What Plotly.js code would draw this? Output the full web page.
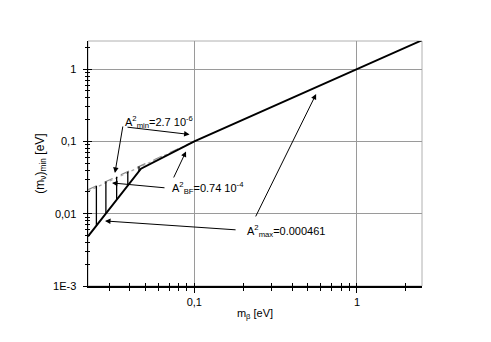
<!DOCTYPE html>
<html>
<head>
<meta charset="utf-8">
<script src="https://cdn.plot.ly/plotly-3.0.1.min.js"></script>
<style>
  html, body { margin: 0; padding: 0; background: #fff; }
  #chart { width: 491px; height: 342px; }
</style>
</head>
<body>
<div id="chart"></div>
<script>
// ── Data ────────────────────────────────────────────────────
// thick curve: (m_nu)_min vs m_beta
const mainX = [0.0222, 0.047, 0.1, 2.5];
const mainY = [0.00485, 0.042, 0.1, 2.5];

// upper dotted bound (A^2 min)
const boundX = [0.0222, 0.1];
const boundY = [0.0215, 0.1];
const boundY2 = [0.0205, 0.1];

// vertical hatch between the two curves
const hatchX    = [0.025, 0.0286, 0.0333, 0.039, 0.0457];
const hatchLow  = [0.007, 0.0101, 0.0156, 0.0244, 0.0385];
const hatchHigh = [0.0244, 0.0279, 0.0325, 0.0381, 0.0449];

// ticks
const xTickVals = [0.1, 1];
const xTickText = ["0,1", "1"];
const yTickVals = [0.001, 0.01, 0.1, 1];
const yTickText = ["1E-3", "0,01", "0,1", "1"];

const FONT = "Liberation Sans, Arial, sans-serif";
const X_RANGE = [Math.log10(0.0222), 0.4];
const Y_RANGE = [-3, 0.39];

// ── Traces ─────────────────────────────────────────────────
const hx = [], hy = [];
hatchX.forEach((x, i) => {
  hx.push(x, x, null);
  hy.push(hatchLow[i], hatchHigh[i], null);
});

const traces = [
  {
    x: boundX, y: boundY, type: "scatter", mode: "lines",
    line: { color: "#8a8a8a", width: 1.2, dash: "dash" },
    hoverinfo: "skip", showlegend: false,
  },
  {
    x: boundX, y: boundY2, type: "scatter", mode: "lines",
    line: { color: "#a8a8a8", width: 1.2, dash: "dot" },
    hoverinfo: "skip", showlegend: false,
  },
  {
    x: hx, y: hy, type: "scatter", mode: "lines",
    line: { color: "#000", width: 1.3 },
    hoverinfo: "skip", showlegend: false,
  },
  {
    x: mainX, y: mainY, type: "scatter", mode: "lines",
    line: { color: "#000", width: 2 },
    hoverinfo: "skip", showlegend: false,
  },
  // empty trace so the inner-tick overlay axes get drawn
  {
    x: [], y: [], type: "scatter", mode: "lines",
    xaxis: "x2", yaxis: "y2", hoverinfo: "skip", showlegend: false,
  },
];

// ── Arrows (tail -> head, log coords) ──────────────────────
function arrow(tx, ty, hxp, hyp) {
  return {
    x: hxp, y: hyp, ax: tx, ay: ty,
    xref: "x", yref: "y", axref: "x", ayref: "y",
    text: "", showarrow: true,
    arrowhead: 2, arrowsize: 1.1, arrowwidth: 1, arrowcolor: "#000",
  };
}
function label(x, y, text) {
  return {
    x: x, y: y, xref: "x", yref: "y", text: text, showarrow: false,
    xanchor: "left", yanchor: "middle",
    font: { family: FONT, size: 11, color: "#000" },
  };
}
const sub = s => `<sub><span style="color:#000">${s}</span></sub>`;
const sup = s => `<sup><span style="color:#000">${s}</span></sup>`;

const annotations = [
  arrow(-1.438, -0.772, -1.488, -1.436),
  arrow(-1.420, -0.800, -1.029, -0.903),
  arrow(-1.174, -1.643, -1.506, -1.574),
  arrow(-1.131, -1.519, -1.051, -1.138),
  arrow(-0.737, -2.224, -1.549, -2.100),
  arrow(-0.627, -2.058, -0.251, -0.343),
  label(-1.439, -0.725, "A" + sup("2") + sub("min") + "=2.7 10" + sup("-6")),
  label(-1.150, -1.645, "A" + sup("2") + sub("BF") + "=0.74 10" + sup("-4")),
  label(-0.690, -2.235, "A" + sup("2") + sub("max") + "=0.000461"),
];

// ── Layout ─────────────────────────────────────────────────
const layout = {
  width: 491, height: 342,
  margin: { l: 88, r: 69, t: 41, b: 56 },
  paper_bgcolor: "#fff", plot_bgcolor: "#fff",
  font: { family: FONT, size: 11, color: "#000" },
  xaxis: {
    type: "log", range: X_RANGE,
    tickmode: "array", tickvals: xTickVals, ticktext: xTickText,
    ticks: "outside", ticklen: 5, tickcolor: "#000", tickwidth: 1,
    minor: { dtick: "D1", ticks: "outside", ticklen: 3, tickcolor: "#000", showgrid: false },
    showgrid: true, gridcolor: "#9a9a9a", gridwidth: 1,
    showline: true, linecolor: "#000", linewidth: 1.5,
    zeroline: false, ticklabelstandoff: 0,
    title: { text: "m<sub>β</sub> [eV]", standoff: 2, font: { family: FONT, size: 11 } },
  },
  yaxis: {
    type: "log", range: Y_RANGE,
    tickmode: "array", tickvals: yTickVals, ticktext: yTickText,
    ticks: "outside", ticklen: 4, tickcolor: "#000", tickwidth: 1,
    minor: { dtick: "D1", ticks: "outside", ticklen: 2, tickcolor: "#000", showgrid: false },
    showgrid: true, gridcolor: "#9a9a9a", gridwidth: 1,
    showline: true, linecolor: "#000", linewidth: 1.5,
    zeroline: false, ticklabelstandoff: 4,
    title: { text: "(m<sub>ν</sub>)<sub>min</sub> [eV]", standoff: 6, font: { family: FONT, size: 12 } },
  },
  xaxis2: {
    type: "log", range: X_RANGE, overlaying: "x", anchor: "y", side: "bottom",
    tickmode: "array", tickvals: xTickVals, showticklabels: false,
    ticks: "inside", ticklen: 3, tickcolor: "#000",
    minor: { dtick: "D1", ticks: "inside", ticklen: 3, tickcolor: "#000", showgrid: false },
    showgrid: false, showline: false, zeroline: false,
  },
  yaxis2: {
    type: "log", range: Y_RANGE, overlaying: "y", anchor: "x", side: "left",
    tickmode: "array", tickvals: yTickVals, showticklabels: false,
    ticks: "inside", ticklen: 4, tickcolor: "#000",
    minor: { dtick: "D1", ticks: "inside", ticklen: 2, tickcolor: "#000", showgrid: false },
    showgrid: false, showline: false, zeroline: false,
  },
  shapes: [{
    type: "rect", xref: "paper", yref: "paper", x0: 0, x1: 1, y0: 0, y1: 1,
    line: { color: "#b0b0b0", width: 1 }, layer: "below",
  }],
  annotations: annotations,
  showlegend: false,
};

Plotly.newPlot("chart", traces, layout, { displayModeBar: false, staticPlot: true });
</script>
</body>
</html>
